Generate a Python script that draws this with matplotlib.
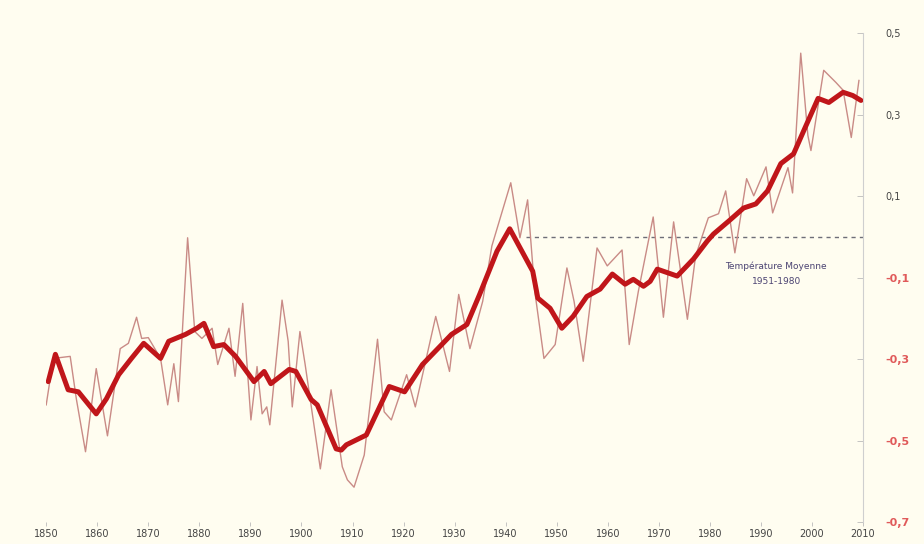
import numpy as np
import matplotlib
matplotlib.use("Agg")
import matplotlib.pyplot as plt

# Temperature anomaly [deg C], raw series (thin line)
raw_year = [1850.0, 1851.4, 1854.7, 1855.9, 1857.7, 1859.8, 1862.0, 1864.5, 1866.1, 1867.7,
            1868.7, 1870.0, 1872.4, 1873.8, 1875.0, 1875.9, 1877.7, 1879.1, 1880.5, 1882.5,
            1883.6, 1885.8, 1887.0, 1888.5, 1890.1, 1891.3, 1892.3, 1893.2, 1893.8, 1896.2,
            1897.4, 1898.2, 1899.7, 1900.7, 1903.7, 1905.8, 1908.0, 1909.0, 1910.3, 1912.3,
            1914.9, 1916.2, 1917.6, 1920.6, 1922.3, 1926.3, 1929.0, 1930.8, 1933.0, 1935.5,
            1937.3, 1941.0, 1942.8, 1944.3, 1945.7, 1947.5, 1949.7, 1952.0, 1953.4, 1955.2,
            1957.9, 1959.9, 1962.8, 1964.2, 1966.0, 1968.9, 1970.9, 1972.9, 1975.6, 1977.2,
            1979.7, 1981.7, 1983.1, 1984.9, 1987.2, 1988.6, 1991.0, 1992.3, 1995.3, 1996.2,
            1997.8, 1999.2, 1999.8, 2002.3, 2004.7, 2006.1, 2007.7, 2009.2]
raw_temp = [-0.412, -0.298, -0.293, -0.397, -0.527, -0.323, -0.488, -0.274, -0.261, -0.197,
            -0.249, -0.247, -0.298, -0.412, -0.311, -0.404, -0.002, -0.232, -0.249, -0.224,
            -0.313, -0.224, -0.342, -0.163, -0.449, -0.318, -0.434, -0.417, -0.461, -0.155,
            -0.256, -0.417, -0.232, -0.311, -0.569, -0.375, -0.564, -0.596, -0.614, -0.535,
            -0.251, -0.429, -0.449, -0.338, -0.417, -0.195, -0.330, -0.141, -0.274, -0.158,
            -0.022, 0.133, -0.002, 0.091, -0.133, -0.298, -0.264, -0.076, -0.158, -0.305,
            -0.027, -0.071, -0.032, -0.264, -0.133, 0.049, -0.197, 0.037, -0.202, -0.047,
            0.047, 0.057, 0.113, -0.039, 0.143, 0.101, 0.172, 0.059, 0.170, 0.108,
            0.451, 0.249, 0.212, 0.409, 0.379, 0.360, 0.244, 0.384]

# Smoothed series (thick line)
smooth_year = [1850.4, 1851.8, 1854.3, 1856.3, 1859.8, 1861.8, 1864.2, 1866.7, 1869.1, 1872.4,
               1874.0, 1877.3, 1879.5, 1880.9, 1882.8, 1884.8, 1887.1, 1890.7, 1892.7, 1894.0,
               1897.6, 1898.9, 1901.9, 1903.1, 1906.8, 1907.8, 1908.8, 1912.7, 1917.2, 1920.2,
               1923.7, 1927.1, 1929.4, 1932.4, 1934.9, 1938.3, 1940.8, 1945.3, 1946.3, 1948.7,
               1951.0, 1953.2, 1955.9, 1958.5, 1960.9, 1963.4, 1965.0, 1967.0, 1968.3, 1969.7,
               1973.6, 1976.8, 1979.5, 1980.7, 1983.7, 1986.6, 1989.0, 1991.3, 1993.9, 1996.4,
               1998.4, 2001.2, 2003.3, 2006.1, 2008.0, 2009.6]
smooth_temp = [-0.355, -0.288, -0.375, -0.380, -0.434, -0.397, -0.338, -0.298, -0.261, -0.298,
               -0.256, -0.239, -0.224, -0.212, -0.269, -0.264, -0.293, -0.355, -0.330, -0.360,
               -0.325, -0.330, -0.399, -0.412, -0.520, -0.523, -0.510, -0.486, -0.367, -0.380,
               -0.313, -0.269, -0.239, -0.215, -0.141, -0.035, 0.020, -0.084, -0.150, -0.175,
               -0.224, -0.195, -0.146, -0.128, -0.091, -0.116, -0.104, -0.121, -0.109, -0.079,
               -0.096, -0.054, -0.010, 0.007, 0.039, 0.071, 0.081, 0.113, 0.180, 0.204,
               0.261, 0.340, 0.330, 0.355, 0.347, 0.335]

decades = list(range(1850, 2011, 10))
y_ticks = [0.5, 0.3, 0.1, -0.1, -0.3, -0.5, -0.7]
y_labels = ["0,5", "0,3", "0,1", "-0,1", "-0,3", "-0,5", "-0,7"]

mean_level = 0.0
mean_start = 1944
mean_label = "Température Moyenne"
mean_period = "1951-1980"

BG = "#fffdf0"


def main():
    fig = plt.figure(figsize=(9.24, 5.44), dpi=100, facecolor=BG)
    ax = fig.add_axes([0.050, 0.040, 0.884, 0.899])
    ax.set_facecolor(BG)

    ax.plot(raw_year, raw_temp, color="#c98b86", lw=1.0, zorder=2)
    ax.plot(smooth_year, smooth_temp, color="#c0161a", lw=3.6,
            solid_capstyle="round", solid_joinstyle="round", zorder=3)

    # reference mean line + label
    ax.plot([mean_start, 2010], [mean_level, mean_level], color="#6e6e78",
            lw=1.0, ls=(0, (3, 3)), zorder=1)
    ax.text(1993.0, -0.072, mean_label, ha="center", va="center",
            fontsize=6.5, color="#4b4372")
    ax.text(1993.0, -0.109, mean_period, ha="center", va="center",
            fontsize=6.5, color="#4b4372")

    ax.set_xlim(1850, 2010)
    ax.set_ylim(-0.7, 0.5)

    for side in ["top", "left", "bottom"]:
        ax.spines[side].set_visible(False)
    ax.spines["right"].set_color("#cfcfcf")
    ax.spines["right"].set_linewidth(0.8)

    ax.set_xticks(decades)
    ax.set_xticklabels([str(d) for d in decades], fontsize=7, color="#444444")
    ax.tick_params(axis="x", length=3, width=0.6, color="#bbbbbb", pad=2)

    ax.yaxis.tick_right()
    ax.set_yticks(y_ticks)
    ax.set_yticklabels(y_labels)
    ax.tick_params(axis="y", direction="in", length=4, width=0.6,
                   color="#bbbbbb", pad=16)
    for lab, val in zip(ax.get_yticklabels(), y_ticks):
        if val < 0:
            lab.set_color("#e05a5a")
            lab.set_fontsize(8)
            lab.set_fontweight("bold")
        else:
            lab.set_color("#444444")
            lab.set_fontsize(7)

    plt.savefig("out.png", dpi=100, facecolor=BG)


if __name__ == '__main__':
    main()
